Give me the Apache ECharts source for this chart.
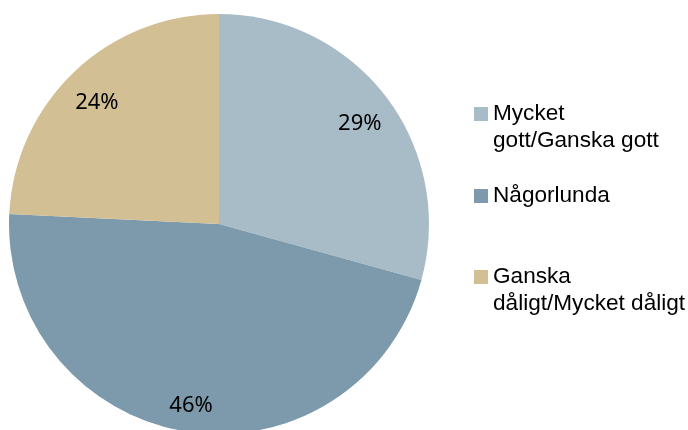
<!DOCTYPE html>
<html>
<head>
<meta charset="utf-8">
<script src="https://cdn.jsdelivr.net/npm/echarts@6/dist/echarts.min.js"></script>
<style>
  html, body { margin: 0; padding: 0; background: #fff; }
  #chart { width: 688px; height: 430px; }
</style>
</head>
<body>
<div id="chart"></div>
<script>
const categories = ["Mycket\ngott/Ganska gott", "Någorlunda", "Ganska\ndåligt/Mycket dåligt"]
const values = [29, 46, 24]
const colors = ["#A7BCC7", "#7C9AAB", "#D3BF94"]

const center = [219, 224]
const pieData = categories.map((name, i) => ({ name, value: values[i] }))

// one legend per item so the icon lines up with the first text line;
// a blank line is put before two-line names so the first line sits at the icon
const lineH = 27
const iconCenters = [114, 196, 277]
const legends = categories.map((name, i) => {
  const lines = name.split("\n").length
  const shown = lines > 1 ? 3 : 1
  return {
    left: 474,
    top: iconCenters[i] - (shown * lineH) / 2,
    padding: 0,
    itemWidth: 14,
    itemHeight: 14,
    icon: "rect",
    selectedMode: false,
    formatter: n => (n.indexOf("\n") >= 0 ? " \n" + n : n),
    textStyle: {
      fontFamily: "Liberation Sans, Arial, sans-serif",
      fontSize: 22.6,
      color: "#000",
      lineHeight: lineH
    },
    data: [name]
  }
})

const chart = echarts.init(document.getElementById("chart"))
chart.setOption({
  animation: false,
  color: colors,
  legend: legends,
  series: [
    {
      type: "pie",
      center,
      radius: [0, 210],
      startAngle: 90,
      clockwise: true,
      silent: true,
      label: { show: false },
      labelLine: { show: false },
      itemStyle: { borderWidth: 0 },
      data: pieData
    },
    {
      // transparent ring only used to place the percentage labels
      type: "pie",
      center,
      radius: [138, 210],
      startAngle: 90,
      clockwise: true,
      silent: true,
      legendHoverLink: false,
      itemStyle: { opacity: 0 },
      label: {
        show: true,
        position: "inside",
        formatter: p => p.value + "%",
        fontFamily: "Noto Sans, sans-serif",
        fontSize: 22,
        color: "#000",
        opacity: 1,
        offset: [0, 7]
      },
      labelLine: { show: false },
      data: pieData
    }
  ]
})
</script>
</body>
</html>
